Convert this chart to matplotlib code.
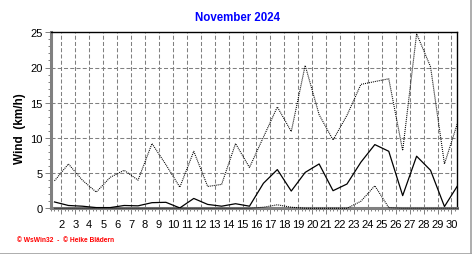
import numpy as np
import matplotlib
matplotlib.use("Agg")
import matplotlib.pyplot as plt
from matplotlib.lines import Line2D

plt.rcParams['font.family'] = ['Liberation Sans', 'DejaVu Sans']
plt.rcParams['lines.scale_dashes'] = False

# daily values, November 2024
days = np.arange(1, 31)
wind_max = [3.9, 6.3, 4.0, 2.3, 4.4, 5.4, 4.0, 9.2, 6.2, 3.0,
            8.1, 3.1, 3.4, 9.2, 5.8, 10.1, 14.4, 10.9, 20.3, 13.3,
            9.7, 13.2, 17.6, 18.0, 18.4, 8.2, 24.8, 20.1, 6.3, 12.5]
wind_avg = [0.9, 0.4, 0.3, 0.1, 0.1, 0.4, 0.35, 0.8, 0.85, 0.05,
            1.4, 0.55, 0.3, 0.65, 0.3, 3.55, 5.5, 2.45, 5.1, 6.3,
            2.5, 3.45, 6.55, 9.05, 8.1, 1.8, 7.4, 5.4, 0.25, 3.4]
wind_min = [0, 0, 0, 0, 0, 0, 0, 0, 0, 0,
            0, 0, 0, 0, 0, 0.15, 0.5, 0.15, 0, 0,
            0, 0, 1.0, 3.2, 0.1, 0, 0, 0, 0, 0]
tick_days = list(range(2, 31))
tick_labels = [str(d) for d in tick_days]

fig = plt.figure(figsize=(4.72, 2.55), dpi=100)
ax = fig.add_axes([51 / 472, 1 - 209.3 / 255, 406 / 472, 176 / 255])

gray = '#808080'
dot = (0, (0.72, 0.72))
dash = (0, (2.9, 1.6))

ax.plot(days, wind_max, color='black', lw=0.8, linestyle=dot, zorder=3)
ax.plot(days, wind_avg, color='black', lw=0.9, zorder=3)
ax.plot(days, wind_min, color='black', lw=0.8, linestyle=dot, zorder=4, clip_on=False)

ax.set_xlim(0.907, 29.9)
ax.set_ylim(0, 25)

ax.set_xticks([d - 0.5 for d in tick_days])
ax.set_xticklabels(tick_labels)
ax.set_xticks(np.arange(0.75, 30, 0.25), minor=True)
ax.set_yticks([0, 5, 10, 15, 20, 25])
ax.set_yticks(np.arange(0, 26, 1), minor=True)

ax.tick_params(axis='x', which='major', length=4, width=0.7, color=gray,
               labelsize=8, pad=4)
ax.tick_params(axis='x', which='minor', length=2.5, width=0.7, color=gray)
ax.tick_params(axis='y', which='major', length=4, width=0.7, color=gray,
               labelsize=8, pad=2)
ax.tick_params(axis='y', which='minor', length=2, width=0.7, color=gray)

for y in [5, 10, 15, 20]:
    ax.axhline(y, color=gray, lw=0.75, linestyle=dash, zorder=1)
for d in tick_days:
    ax.axvline(d - 0.5, color=gray, lw=0.75, linestyle=dash, zorder=1)

ax.spines['left'].set_color(gray)
ax.spines['left'].set_linewidth(2.2)
ax.spines['bottom'].set_color(gray)
ax.spines['bottom'].set_linewidth(2.2)
ax.spines['top'].set_color('black')
ax.spines['top'].set_linewidth(1.0)
ax.spines['right'].set_color('black')
ax.spines['right'].set_linewidth(1.0)

ax.set_ylabel('Wind  (km/h)', fontsize=8.5, fontweight='bold')
ax.yaxis.set_label_coords(-0.062, 0.456)

fig.text(237.5 / 472, 1 - 18 / 255, 'November 2024', color='#0000ff',
         fontsize=8.3, fontweight='bold', ha='center', va='center')
fig.text(17 / 472, 1 - 241 / 255, '\u00a9 WsWin32  -  \u00a9 Heike Blädern',
         color='#ff0000', fontsize=4.8, fontweight='bold', ha='left', va='center')

# panel edge on right and bottom
fig.add_artist(Line2D([0, 1], [0.5 / 255, 0.5 / 255], color='#a0a0a0', lw=1.2,
                      transform=fig.transFigure))
fig.add_artist(Line2D([1 - 1.5 / 472, 1 - 1.5 / 472], [0, 1], color='#a0a0a0', lw=1.2,
                      transform=fig.transFigure))

fig.savefig('out.png', dpi=100)
